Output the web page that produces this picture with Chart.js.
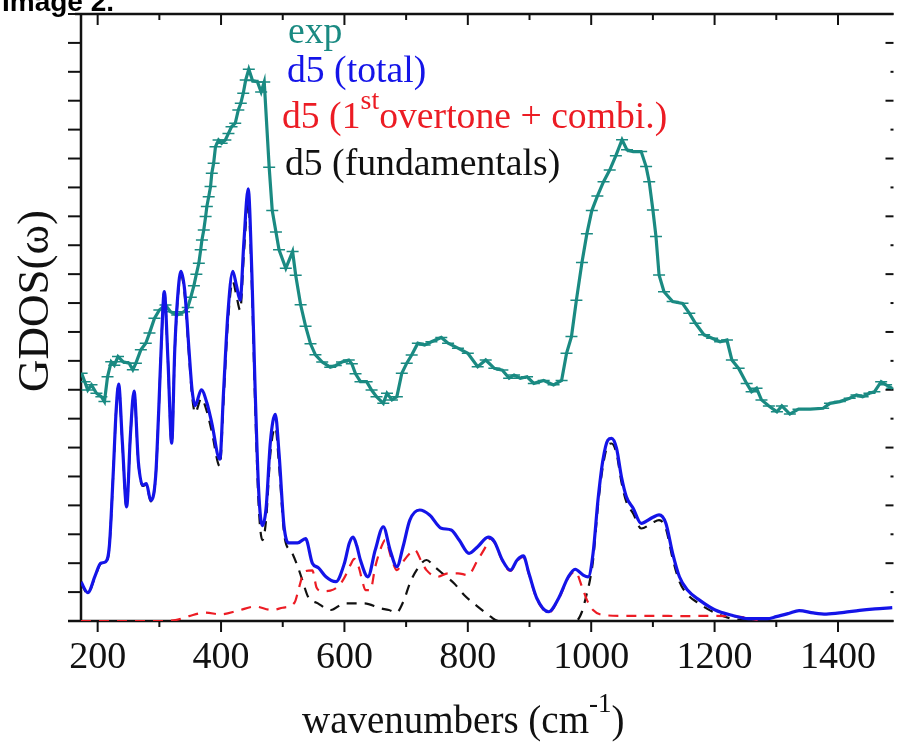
<!DOCTYPE html>
<html>
<head>
<meta charset="utf-8">
<script src="https://cdn.jsdelivr.net/npm/chart.js@4.4.1/dist/chart.umd.min.js"></script>
<style>
  html, body { margin: 0; padding: 0; background: #fff; }
</style>
</head>
<body>
<canvas id="myChart" width="901" height="742"></canvas>
<script>
const ctx = document.getElementById('myChart');
const serif = '"Liberation Serif", "Times New Roman", serif';

// exp (measured GDOS)
const expX = [174,179,184,190,198,206,211,216,222,227,
  233,241,251,257,262,270,278,284,292,300,
  310,318,329,340,346,351,356,360,364,367,
  369,372,375,377,380,383,385,388,391,396,
  401,407,412,417,423,428,432,436,440,445,
  451,459,465,470,478,483,489,494,505,516,
  521,529,537,545,553,564,577,586,596,607,
  612,618,626,636,644,652,663,669,677,685,
  693,701,709,719,730,741,757,768,784,800,
  816,829,843,856,867,875,885,896,907,923,
  939,952,960,968,976,985,993,1001,1010,1020,
  1030,1040,1050,1058,1068,1081,1089,1094,1100,1105,
  1110,1118,1132,1148,1159,1169,1183,1196,1209,1220,
  1228,1239,1252,1260,1268,1276,1288,1301,1309,1322,
  1336,1355,1376,1387,1403,1419,1430,1440,1451,1459,
  1470,1478,1488];
const expY = [8.57,8.28,7.99,8.17,7.88,7.76,7.59,8.45,8.97,8.85,
  9.15,8.97,8.92,8.69,8.92,9.38,9.61,9.96,10.47,10.76,
  10.93,10.7,10.59,10.7,10.85,11.2,11.6,12.0,12.38,12.84,
  13.18,13.53,13.99,14.34,14.68,15.03,15.49,15.84,16.41,16.64,
  16.53,16.64,16.87,17.1,17.22,17.68,17.91,18.26,18.72,19.09,
  18.7,18.65,18.3,18.65,15.7,14.2,13.46,12.84,12.2,12.78,
  11.96,10.94,10.2,9.59,9.21,8.96,8.78,8.84,8.96,9.03,
  8.9,8.55,8.28,8.28,7.99,7.76,7.53,7.88,7.65,7.76,
  8.57,8.92,9.2,9.61,9.55,9.66,9.81,9.61,9.44,9.26,
  8.8,9.03,8.74,8.68,8.4,8.51,8.4,8.45,8.22,8.32,
  8.17,8.32,9.26,9.84,11.1,12.4,13.4,14.2,14.7,15.2,
  15.6,16.1,16.65,16.3,16.24,16.24,15.72,15.2,14.22,13.3,
  11.97,11.39,11.05,10.99,10.65,10.3,9.9,9.78,9.66,9.72,
  9.03,8.74,8.22,7.93,8.05,7.65,7.44,7.24,7.44,7.16,
  7.33,7.33,7.36,7.53,7.59,7.71,7.82,7.76,7.88,7.93,
  8.28,8.17,8.05];

// d5 (total)
const totalX = [173,184,196,205,213,219,225,230,234,240,
  247,253,259,266,273,279,286,294,299,304,
  308,314,320,325,330,335,341,348,353,358,
  368,377,385,398,404,411,419,425,431,437,
  444,450,455,461,467,473,480,488,494,502,
  510,524,537,548,558,570,586,600,608,614,
  620,626,638,650,663,674,685,695,706,722,
  738,757,773,786,802,816,833,843,856,869,
  880,890,899,912,931,947,963,974,987,995,
  1003,1011,1019,1027,1033,1041,1049,1057,1068,1081,
  1100,1110,1121,1132,1143,1156,1175,1201,1228,1255,
  1285,1300,1320,1337,1360,1381,1410,1435,1460,1488];
const totalY = [1.35,0.98,1.57,2.0,2.05,2.6,5.0,7.3,8.2,6.2,
  3.95,6.4,7.95,5.5,4.7,4.75,4.17,5.0,7.3,10.0,
  11.4,9.0,6.15,9.4,11.3,12.1,11.45,9.4,8.0,7.45,
  8.0,7.55,6.85,5.6,7.9,10.6,12.1,11.6,11.1,13.1,
  14.95,12.0,8.2,4.5,3.3,3.9,6.2,7.15,5.8,3.3,
  2.7,2.7,2.85,2.0,1.84,1.53,1.36,2.0,2.7,2.9,
  2.6,2.1,1.53,2.46,3.26,2.46,1.88,2.57,3.49,3.84,
  3.67,3.21,3.15,2.8,2.34,2.57,2.9,2.75,2.11,1.76,
  2.11,2.25,1.65,0.78,0.32,0.78,1.53,1.79,1.59,1.53,
  2.34,4.19,5.57,6.26,6.32,5.98,4.99,4.3,3.9,3.38,
  3.59,3.67,3.38,2.34,1.53,1.07,0.73,0.38,0.2,0.08,
  0.08,0.15,0.26,0.36,0.28,0.24,0.3,0.37,0.42,0.46];

// d5 (1st overtone + combi.)
const overX = [173,300,326,348,375,399,428,455,482,500,
  519,527,535,548,555,564,577,590,600,610,
  616,623,630,634,642,650,660,666,677,685,
  695,706,714,725,733,751,768,784,800,816,
  829,836,843,856,869,880,890,899,912,931,
  947,963,974,985,993,1003,1019,1050,1100,1150,
  1200,1230,1250,1270];
const overY = [0,0,0.03,0.17,0.29,0.23,0.36,0.5,0.38,0.46,
  0.63,1.2,1.71,1.75,1.15,1.03,1.05,1.2,1.5,1.95,
  2.15,1.88,1.3,1.07,1.07,1.88,2.57,2.8,2.11,1.76,
  2.05,2.34,2.46,2.05,1.76,1.53,1.65,1.65,1.59,2.11,
  2.57,2.85,2.72,2.08,1.73,2.08,2.22,1.62,0.75,0.29,
  0.75,1.5,1.72,1.19,0.73,0.38,0.21,0.18,0.18,0.17,
  0.18,0.16,0.12,0.03];

// d5 (fundamentals)
const fundX = [173,184,196,205,213,219,225,230,234,240,
  247,253,259,266,273,279,286,294,299,304,
  308,314,320,325,330,335,341,348,353,358,
  368,377,385,398,404,411,419,425,431,437,
  444,450,455,461,467,473,480,488,494,503,
  514,524,532,541,557,578,600,632,658,672,
  684,696,706,717,733,746,762,778,794,816,
  837,850,975,985,993,998,1003,1011,1019,1027,
  1033,1041,1049,1057,1068,1081,1100,1110,1121,1132,
  1143,1156,1175,1201,1228,1255,1275];
const fundY = [1.32,0.95,1.54,1.97,2.02,2.57,4.97,7.27,8.17,6.17,
  3.92,6.37,7.92,5.47,4.67,4.72,4.14,4.97,7.27,9.97,
  11.37,8.97,6.1,9.35,11.2,11.95,11.3,9.2,7.8,7.2,
  7.7,7.25,6.55,5.35,7.6,10.3,11.75,11.25,10.75,12.7,
  14.5,11.55,7.7,4.0,2.8,3.5,5.8,6.7,5.4,2.9,
  2.4,1.9,1.4,0.84,0.61,0.38,0.61,0.61,0.44,0.38,
  0.29,0.7,1.3,1.76,2.11,1.88,1.59,1.3,0.9,0.5,
  0.15,0,0,0.32,0.96,1.42,2.1,4.0,5.36,6.08,
  6.14,5.8,4.81,4.12,3.72,3.2,3.41,3.49,3.2,2.16,
  1.36,0.92,0.6,0.28,0.08,0.02,0];

const xTicks = [200, 300, 400, 500, 600, 700, 800, 900, 1000, 1100, 1200, 1300, 1400];

const colExp = '#1a8a82';
const colTotal = '#1414e8';
const colOver = '#ec1c24';
const colFund = '#111111';

const pts = (xs, ys) => xs.map((x, i) => ({ x: x, y: ys[i] }));

// frame and tick marks go under the curves, texts on top
const decor = {
  id: 'decor',
  beforeDatasetsDraw(chart) {
    const c = chart.ctx;
    const a = chart.chartArea;
    const x = chart.scales.x, y = chart.scales.y;
    const seg = (x1, y1, x2, y2) => { c.beginPath(); c.moveTo(x1, y1); c.lineTo(x2, y2); c.stroke(); };
    c.save();
    c.strokeStyle = '#111';
    c.lineWidth = 2;
    xTicks.forEach(v => {
      const px = x.getPixelForValue(v);
      const len = v % 200 === 0 ? 11 : 6;
      seg(px, a.bottom, px, a.bottom + len);
      seg(px, a.top, px, a.top + len);
    });
    for (let v = 0; v <= 21; v++) {
      const py = y.getPixelForValue(v);
      seg(a.left - 13, py, a.left, py);
      seg(a.right, py, a.right - (v % 2 ? 3 : 8), py);
    }
    c.lineWidth = 2.5;
    seg(a.left, a.top - 1, a.left, a.bottom);
    seg(a.left - 6, a.top, a.right, a.top);
    seg(a.left - 13, a.bottom, a.right, a.bottom);
    c.restore();
  },
  afterDraw(chart) {
    const c = chart.ctx;
    c.save();
    const rich = (x0, y0, parts, color) => {
      let cx = x0;
      c.fillStyle = color;
      c.textBaseline = 'alphabetic';
      c.textAlign = 'left';
      parts.forEach(([t, size, dy]) => {
        c.font = size + 'px ' + serif;
        c.fillText(t, cx, y0 + dy);
        cx += c.measureText(t).width;
      });
    };
    rich(288, 43, [['exp', 37.7, 0]], colExp);
    rich(287, 82, [['d5 (total)', 37.7, 0]], colTotal);
    rich(282, 128, [['d5 (1', 37.7, 0], ['st', 28, -19], ['overtone + combi.)', 37.7, 0]], colOver);
    rich(285, 175, [['d5 (fundamentals)', 37.7, 0]], colFund);

    rich(302, 733, [['wavenumbers (cm', 39, 0], ['-1', 27, -21], [')', 39, 0]], '#111');

    c.save();
    c.translate(48, 301);
    c.rotate(-Math.PI / 2);
    c.font = '45px ' + serif;
    c.fillStyle = '#111';
    c.textAlign = 'center';
    c.fillText('GDOS(\u03c9)', 0, 0);
    c.restore();

    c.font = 'bold 28px "Liberation Sans", Arial, sans-serif';
    c.fillStyle = '#000';
    c.textAlign = 'left';
    c.fillText('Image 2.', 2, 11);
    c.restore();
  }
};

new Chart(ctx, {
  type: 'line',
  data: {
    datasets: [{
      label: 'd5 (total)',
      data: pts(totalX, totalY),
      borderColor: colTotal,
      borderWidth: 3.2,
      pointRadius: 0,
      cubicInterpolationMode: 'monotone'
    }, {
      label: 'exp',
      data: pts(expX, expY),
      borderColor: colExp,
      borderWidth: 3.2,
      pointStyle: 'line',
      pointRadius: 6,
      pointBorderWidth: 1.5,
      pointBorderColor: colExp,
      tension: 0
    }, {
      label: 'd5 (1st overtone + combi.)',
      data: pts(overX, overY),
      borderColor: colOver,
      borderWidth: 2.2,
      borderDash: [10, 8],
      pointRadius: 0,
      cubicInterpolationMode: 'monotone'
    }, {
      label: 'd5 (fundamentals)',
      data: pts(fundX, fundY),
      borderColor: colFund,
      borderWidth: 2.2,
      borderDash: [10, 8],
      pointRadius: 0,
      cubicInterpolationMode: 'monotone'
    }]
  },
  options: {
    responsive: false,
    animation: false,
    layout: { padding: { left: 81, right: 0, top: 14, bottom: 0 } },
    plugins: { legend: { display: false }, tooltip: { enabled: false } },
    scales: {
      x: {
        type: 'linear',
        min: 173,
        max: 1490,
        grid: { display: false, drawTicks: false },
        border: { display: false },
        afterFit: (s) => { s.height = 121; s.paddingLeft = 0; s.paddingRight = 0; },
        ticks: {
          stepSize: 100,
          includeBounds: false,
          autoSkip: false,
          maxRotation: 0,
          padding: 14,
          color: '#111',
          font: { family: serif, size: 38 },
          callback: (v) => (v % 200 === 0 ? String(v) : '')
        }
      },
      y: {
        display: false,
        min: 0,
        max: 21
      }
    }
  },
  plugins: [decor]
});
</script>
</body>
</html>
